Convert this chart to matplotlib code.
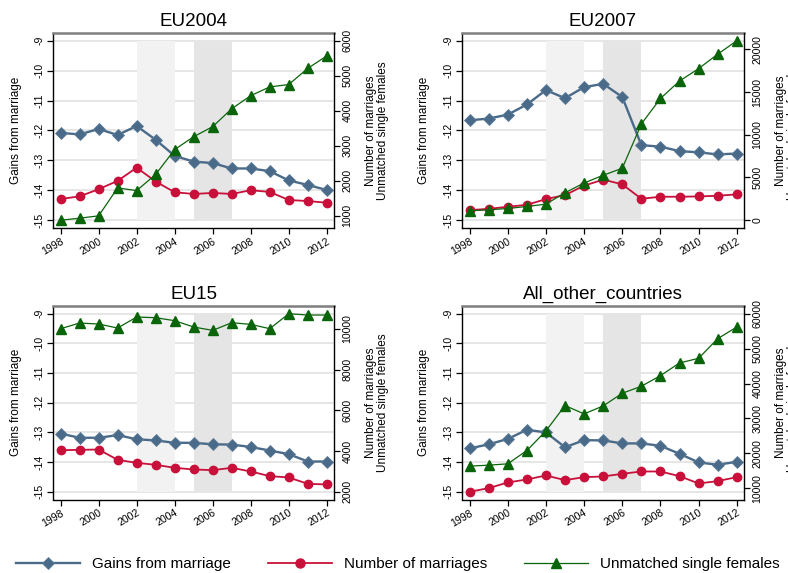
import matplotlib
matplotlib.use("Agg")
import matplotlib.pyplot as plt
from matplotlib.lines import Line2D

plt.rcParams['font.family'] = ['Liberation Sans', 'DejaVu Sans']

years = list(range(1998, 2013))

panels = ["EU2004", "EU2007", "EU15", "All_other_countries"]

# Gains from marriage (left axis)
gains_eu2004 = [-12.08, -12.13, -11.95, -12.15, -11.85, -12.31, -12.85, -13.04,
                -13.09, -13.27, -13.27, -13.36, -13.67, -13.82, -13.99]
gains_eu2007 = [-11.66, -11.60, -11.47, -11.13, -10.65, -10.92, -10.55, -10.44,
                -10.88, -12.49, -12.54, -12.69, -12.73, -12.80, -12.77]
gains_eu15 = [-13.04, -13.18, -13.18, -13.09, -13.23, -13.27, -13.35, -13.35,
              -13.40, -13.41, -13.49, -13.61, -13.73, -13.98, -13.98]
gains_other = [-13.54, -13.40, -13.22, -12.91, -13.00, -13.50, -13.26, -13.27,
               -13.37, -13.37, -13.45, -13.72, -14.01, -14.09, -13.99]

# Number of marriages (right axis)
marr_eu2004 = [1476, 1553, 1756, 1996, 2372, 1977, 1669, 1621, 1650, 1621,
               1727, 1679, 1448, 1419, 1370]
marr_eu2007 = [1178, 1335, 1570, 1806, 2473, 2944, 4043, 4750, 4200, 2512,
               2748, 2748, 2787, 2865, 3022]
marr_eu15 = [4044, 4061, 4077, 3570, 3423, 3325, 3178, 3096, 3063, 3178,
             2998, 2769, 2703, 2392, 2360]
marr_other = [9000, 10049, 11669, 12527, 13671, 12337, 13195, 13386, 14148,
              14816, 14816, 13481, 11384, 12051, 13195]

# Unmatched single females (right axis)
unm_eu2004 = [870, 928, 995, 1794, 1717, 2179, 2891, 3257, 3546, 4056,
              4431, 4681, 4749, 5211, 5567]
unm_eu2007 = [1099, 1217, 1374, 1609, 1884, 3219, 4357, 5260, 6084, 11265,
              14249, 16290, 17742, 19430, 21000]
unm_eu15 = [10014, 10292, 10243, 10047, 10587, 10554, 10407, 10096, 9932,
            10308, 10227, 10014, 10750, 10685, 10685]
unm_other = [16340, 16626, 17007, 20820, 26445, 33690, 31307, 33594, 37217,
             39218, 42269, 45891, 47226, 52850, 56187]

gains = [gains_eu2004, gains_eu2007, gains_eu15, gains_other]
marriages = [marr_eu2004, marr_eu2007, marr_eu15, marr_other]
unmatched = [unm_eu2004, unm_eu2007, unm_eu15, unm_other]

left_ticks = [-15, -14, -13, -12, -11, -10, -9]
right_ticks = [
    [1000, 2000, 3000, 4000, 5000, 6000],
    [0, 5000, 10000, 15000, 20000],
    [2000, 4000, 6000, 8000, 10000],
    [10000, 20000, 30000, 40000, 50000, 60000],
]
x_ticks = list(range(1998, 2013, 2))

# shaded periods
band1 = (2002, 2004)
band2 = (2005, 2007)

c_gain = "#4a6a89"
c_marr = "#c8103a"
c_unm = "#0a640a"

W, H = 788, 573
fig = plt.figure(figsize=(W / 100, H / 100), dpi=100)

# axes boxes in pixels: left, top, right, bottom
boxes = [(53, 33, 334, 228), (462, 33, 744, 228),
         (53, 306, 334, 499.5), (462, 306, 744, 499.5)]

marg = 0.26
tsize = 7.6

for i, name in enumerate(panels):
    l, t, r, b = boxes[i]
    ax = fig.add_axes([l / W, 1 - b / H, (r - l) / W, (b - t) / H])
    ax2 = ax.twinx()

    ax.set_xlim(1997.6, 2012.38)
    ax.set_ylim(-15 - marg, -9 + marg)

    # grid and shading
    ax.set_axisbelow(True)
    ax.yaxis.grid(True, color="#e4e4e4", lw=1.3)
    ax.fill_between(band1, -15, -9, color="#f2f2f2", lw=0, zorder=1)
    ax.fill_between(band2, -15, -9, color="#e5e5e5", lw=0, zorder=1)

    ax.plot(years, gains[i], color=c_gain, lw=1.7, marker="D", ms=6,
            mec="#5d7c99", mew=0.6, zorder=3)
    ax2.plot(years, marriages[i], color=c_marr, lw=1.3, marker="o", ms=6,
             mec=c_marr, zorder=3)
    ax2.plot(years, unmatched[i], color=c_unm, lw=0.9, marker="^", ms=7,
             mec=c_unm, zorder=4)

    rt = right_ticks[i]
    rmin = min(min(marriages[i]), min(unmatched[i]), rt[0])
    rmax = max(max(marriages[i]), max(unmatched[i]), rt[-1])
    span = rmax - rmin
    ax2.set_ylim(rmin - span * marg / 6, rmax + span * marg / 6)

    ax.set_yticks(left_ticks)
    ax.set_yticklabels([str(v) for v in left_ticks])
    ax2.set_yticks(rt)
    ax2.set_yticklabels([str(v) for v in rt])
    ax.set_xticks(x_ticks)
    ax.set_xticklabels([str(v) for v in x_ticks], rotation=30, ha="right",
                       rotation_mode="anchor")

    ax.tick_params(axis="y", labelrotation=90, labelsize=tsize, length=4,
                   width=0.9, pad=2)
    ax2.tick_params(axis="y", labelrotation=90, labelsize=tsize, length=4,
                    width=0.9, pad=2)
    ax.tick_params(axis="x", labelsize=tsize, length=4, width=0.9, pad=2)
    for lab in ax.get_yticklabels():
        lab.set_va("center")
    for lab in ax2.get_yticklabels():
        lab.set_va("center")

    for sp in ["top", "right", "bottom", "left"]:
        ax2.spines[sp].set_visible(False)
    ax2.spines["right"].set_visible(True)
    ax2.spines["right"].set_linewidth(1.0)
    ax.spines["right"].set_visible(False)
    ax.spines["top"].set_color("#7f7f7f")
    ax.spines["top"].set_linewidth(1.8)
    ax.spines["left"].set_linewidth(1.0)
    ax.spines["bottom"].set_linewidth(1.0)

    ax.set_ylabel("Gains from marriage", fontsize=8.5)
    ax.yaxis.set_label_coords(-0.112, 0.5)
    ax2.set_ylabel("Number of marriages\nUnmatched single females",
                   fontsize=8.5, linespacing=1.0)
    ax2.yaxis.set_label_coords(1.11, 0.5)

    ax.set_title(name, fontsize=13.5, pad=5)

handles = [
    Line2D([], [], color=c_gain, lw=1.7, marker="D", ms=6.5, mec="#5d7c99",
           mew=0.6, label="Gains from marriage"),
    Line2D([], [], color=c_marr, lw=1.3, marker="o", ms=6.5, mec=c_marr,
           label="Number of marriages"),
    Line2D([], [], color=c_unm, lw=0.9, marker="^", ms=7.5, mec=c_unm,
           label="Unmatched single females"),
]
fig.legend(handles=handles, ncol=3, loc="center",
           bbox_to_anchor=(398 / W, 1 - 564 / H), frameon=False,
           fontsize=11, handlelength=4.2, handletextpad=0.8,
           columnspacing=2.4, borderpad=0)

fig.savefig("out.png", dpi=100)
